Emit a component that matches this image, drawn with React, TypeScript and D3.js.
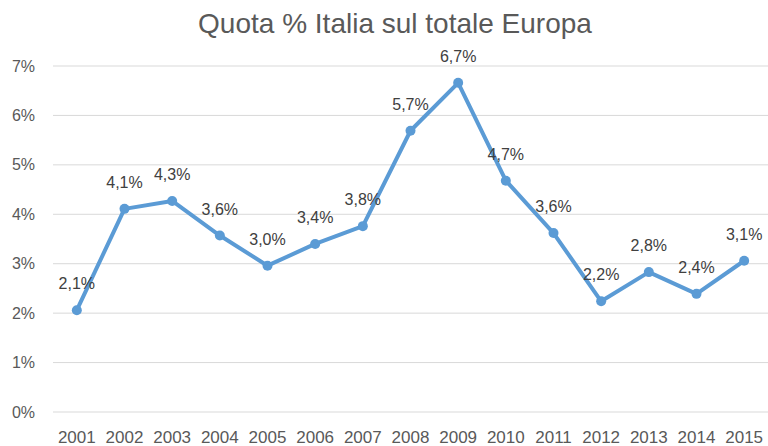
import React, { useEffect, useRef } from 'react';
import * as d3 from 'd3';

const years = ['2001', '2002', '2003', '2004', '2005', '2006', '2007', '2008', '2009', '2010', '2011', '2012', '2013', '2014', '2015'];
const quota = [2.06, 4.11, 4.27, 3.57, 2.96, 3.4, 3.76, 5.69, 6.66, 4.68, 3.62, 2.24, 2.83, 2.39, 3.06];
const yTicks = [0, 1, 2, 3, 4, 5, 6, 7];
const title = 'Quota % Italia sul totale Europa';

const App = () => {
    const ref = useRef<SVGSVGElement>(null);

    useEffect(() => {
        const width = 768;
        const height = 446;

        const x = d3.scaleBand()
            .domain(years)
            .range([53, 768]);

        const y = d3.scaleLinear()
            .domain([0, 7])
            .range([412, 66]);

        const cx = (d: string) => (x(d) as number) + x.bandwidth() / 2;
        const fmt = (v: number) => v.toFixed(1).replace('.', ',') + '%';

        const svg = d3.select(ref.current)
            .attr('width', width)
            .attr('height', height);
        svg.selectAll('*').remove();

        svg.append('rect')
            .attr('width', width)
            .attr('height', height)
            .attr('fill', '#fff');

        svg.append('text')
            .attr('x', 395)
            .attr('y', 33)
            .attr('text-anchor', 'middle')
            .attr('font-family', 'Liberation Sans, Arial, sans-serif')
            .attr('font-size', 28)
            .attr('fill', '#595959')
            .text(title);

        // gridlines
        svg.append('g')
            .selectAll('line')
            .data(yTicks)
            .join('line')
            .attr('x1', 53)
            .attr('x2', 768)
            .attr('y1', d => y(d))
            .attr('y2', d => y(d))
            .attr('stroke', '#d9d9d9')
            .attr('stroke-width', 1);

        // y axis labels
        svg.append('g')
            .selectAll('text')
            .data(yTicks)
            .join('text')
            .attr('x', 35)
            .attr('y', d => y(d))
            .attr('dy', '0.35em')
            .attr('text-anchor', 'end')
            .attr('font-family', 'Liberation Sans, Arial, sans-serif')
            .attr('font-size', 16)
            .attr('fill', '#595959')
            .text(d => d + '%');

        // x axis labels
        svg.append('g')
            .selectAll('text')
            .data(years)
            .join('text')
            .attr('x', d => cx(d))
            .attr('y', 443)
            .attr('text-anchor', 'middle')
            .attr('font-family', 'Liberation Sans, Arial, sans-serif')
            .attr('font-size', 17)
            .attr('fill', '#595959')
            .text(d => d);

        const line = d3.line<number>()
            .x((d, i) => cx(years[i]))
            .y(d => y(d));

        svg.append('path')
            .datum(quota)
            .attr('d', line)
            .attr('fill', 'none')
            .attr('stroke', '#5b9bd5')
            .attr('stroke-width', 4)
            .attr('stroke-linejoin', 'round')
            .attr('stroke-linecap', 'round');

        svg.append('g')
            .selectAll('circle')
            .data(quota)
            .join('circle')
            .attr('cx', (d, i) => cx(years[i]))
            .attr('cy', d => y(d))
            .attr('r', 5)
            .attr('fill', '#5b9bd5');

        svg.append('g')
            .selectAll('text')
            .data(quota)
            .join('text')
            .attr('x', (d, i) => cx(years[i]))
            .attr('y', d => y(d) - 21)
            .attr('text-anchor', 'middle')
            .attr('font-family', 'Liberation Sans, Arial, sans-serif')
            .attr('font-size', 16)
            .attr('fill', '#404040')
            .text(d => fmt(d));
    }, []);

    return (
        <svg ref={ref} style={{ position: 'absolute', left: 0, top: 0 }} />
    );
};

export default App;
